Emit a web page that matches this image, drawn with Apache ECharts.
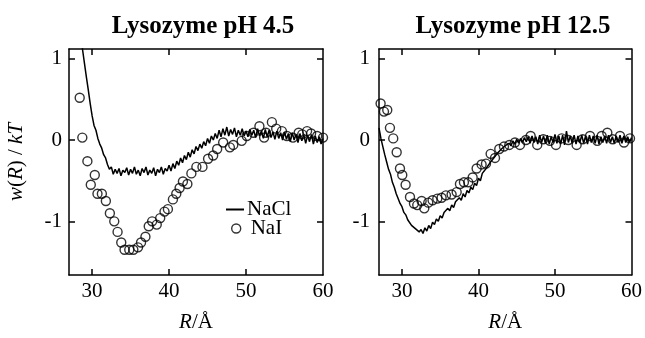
<!DOCTYPE html>
<html>
<head>
<meta charset="utf-8">
<script src="https://cdn.jsdelivr.net/npm/echarts@6/dist/echarts.min.js"></script>
<style>html,body{margin:0;padding:0;background:#fff}#c{width:645px;height:338px}</style>
</head>
<body>
<div id="c"></div>
<script>
// ---- data ----
const panelTitles = ['Lysozyme pH 4.5', 'Lysozyme pH 12.5'];
const xTicks = [30, 40, 50, 60];
const yTicks = [-1, 0, 1];

// NaCl simulation curves sampled every 0.25 Å
const naclLeftStart = 28.5, naclRightStart = 27.0, naclStep = 0.25;
const naclLeftW = [
 1.35,1.12,0.95,0.78,0.62,0.45,0.30,0.18,0.12,0.02,-0.05,-0.10,-0.18,-0.22,-0.30,-0.36,
 -0.33,-0.42,-0.36,-0.41,-0.35,-0.44,-0.37,-0.40,-0.34,-0.43,-0.36,-0.41,-0.33,-0.42,-0.37,-0.44,
 -0.35,-0.40,-0.33,-0.43,-0.37,-0.41,-0.34,-0.44,-0.36,-0.40,-0.33,-0.42,-0.35,-0.38,-0.31,-0.38,
 -0.29,-0.35,-0.26,-0.31,-0.22,-0.28,-0.19,-0.24,-0.15,-0.21,-0.12,-0.17,-0.08,-0.13,-0.05,-0.10,
 -0.02,-0.07,0.02,-0.04,0.05,0.00,0.08,0.02,0.12,0.04,0.14,0.06,0.16,0.05,0.13,0.07,
 0.15,0.04,0.12,0.06,0.14,0.05,0.11,0.04,0.13,0.06,0.12,0.03,0.14,0.05,0.11,0.02,
 0.13,0.04,0.12,0.03,0.10,0.01,0.11,0.02,0.09,0.00,0.10,0.01,0.08,-0.02,0.09,0.00,
 0.07,-0.03,0.08,-0.01,0.07,-0.04,0.06,-0.02,0.07,-0.05,0.05,-0.03,0.04,-0.05,0.02
];
const naclRightW = [
 0.15,0.02,-0.08,-0.18,-0.27,-0.36,-0.42,-0.52,-0.58,-0.66,-0.72,-0.78,-0.82,-0.89,-0.92,-0.98,
 -1.00,-1.05,-1.03,-1.09,-1.07,-1.13,-1.10,-1.15,-1.08,-1.12,-1.05,-1.09,-1.01,-1.04,-0.97,-1.00,
 -0.93,-0.96,-0.89,-0.91,-0.84,-0.87,-0.80,-0.83,-0.76,-0.78,-0.71,-0.74,-0.66,-0.70,-0.62,-0.65,
 -0.58,-0.61,-0.53,-0.56,-0.47,-0.50,-0.41,-0.43,-0.35,-0.37,-0.28,-0.30,-0.22,-0.24,-0.16,-0.18,
 -0.11,-0.13,-0.07,-0.09,-0.04,-0.07,-0.01,-0.05,0.01,-0.04,0.02,-0.03,0.03,-0.02,0.04,-0.04,
 0.05,-0.03,0.04,-0.05,0.06,-0.03,0.05,-0.04,0.06,-0.05,0.04,-0.03,0.07,-0.04,0.05,-0.05,
 0.06,-0.06,0.11,-0.03,0.05,-0.04,0.06,-0.05,0.05,-0.03,0.06,-0.04,0.05,-0.05,0.06,-0.03,
 0.05,-0.04,0.06,-0.05,0.04,-0.03,0.05,-0.04,0.06,-0.03,0.04,-0.04,0.05,-0.03,0.06,-0.04,
 0.05,-0.03,0.04,-0.03,0.03
];

// NaI data points
const naiLeftR = [28.39,28.73,29.39,29.83,30.35,30.70,31.27,31.79,32.31,32.88,33.31,33.79,34.22,34.83,35.36,35.97,
 36.36,36.93,37.36,37.80,38.40,38.85,39.41,39.85,40.50,40.94,41.37,41.80,42.38,42.90,43.55,44.34,
 45.07,45.73,46.25,47.03,47.90,48.34,49.44,50.09,50.96,51.74,52.35,52.60,53.36,53.92,54.66,55.32,
 56.10,56.84,57.30,57.93,58.45,59.24,60.00];
const naiLeftW = [0.52,0.03,-0.26,-0.55,-0.43,-0.66,-0.66,-0.75,-0.90,-1.00,-1.13,-1.26,-1.35,-1.35,-1.35,-1.32,
 -1.26,-1.19,-1.06,-1.00,-1.04,-0.96,-0.88,-0.85,-0.73,-0.66,-0.59,-0.51,-0.54,-0.41,-0.33,-0.33,
 -0.23,-0.19,-0.11,-0.03,-0.09,-0.06,-0.01,0.05,0.09,0.17,0.03,0.09,0.22,0.14,0.11,0.05,
 0.03,0.09,0.07,0.11,0.08,0.05,0.03];
const naiRightR = [27.21,27.65,28.08,28.43,28.86,29.31,29.74,30.04,30.48,31.05,31.57,32.00,32.57,32.92,33.44,34.00,
 34.62,35.18,35.75,36.49,37.15,37.58,38.10,38.67,39.24,39.76,40.41,40.98,41.59,42.16,42.72,43.33,
 44.03,44.77,45.42,46.20,46.82,47.68,48.47,49.34,50.13,50.87,51.74,52.83,53.62,54.58,55.53,56.10,
 56.84,57.54,58.50,59.02,59.80];
const naiRightW = [0.45,0.35,0.37,0.15,0.02,-0.15,-0.35,-0.43,-0.55,-0.70,-0.78,-0.80,-0.75,-0.84,-0.77,-0.74,
 -0.72,-0.71,-0.68,-0.67,-0.64,-0.54,-0.52,-0.52,-0.46,-0.35,-0.30,-0.29,-0.17,-0.22,-0.11,-0.08,
 -0.06,-0.03,-0.06,0.00,0.05,-0.06,0.01,-0.01,-0.06,0.02,0.00,-0.06,0.01,0.05,-0.01,0.05,
 0.09,0.01,0.05,-0.03,0.02];

// ---- build ----
const F = 'Liberation Serif';
function curve(start, ws){ return ws.map((w,i)=>[start + i*naclStep, w]); }
function pts(rs, ws){ return rs.map((r,i)=>[r, ws[i]]); }

const grids = [
  {left:69, top:49, width:254, height:228},
  {left:379, top:49, width:254, height:228}
];
const xAxes = [], yAxes = [];
grids.forEach((g,gi)=>{
  xAxes.push({gridIndex:gi, type:'value', min:27, max:60, position:'bottom',
    axisLine:{show:true, onZero:false, lineStyle:{color:'#000', width:1.5}},
    axisTick:{show:true, inside:true, length:6, customValues:xTicks.slice(0,3), lineStyle:{color:'#000', width:1.5}},
    axisLabel:{show:true, customValues:xTicks, color:'#000', fontFamily:F, fontSize:21, margin:6},
    splitLine:{show:false},
    name:'{i|R}/Å', nameLocation:'middle', nameGap:37,
    nameTextStyle:{color:'#000', fontFamily:F, fontSize:21, rich:{i:{fontStyle:'italic', fontFamily:F, fontSize:21, color:'#000'}}}
  });
  xAxes.push({gridIndex:gi, type:'value', min:27, max:60, position:'top',
    axisLine:{show:true, onZero:false, lineStyle:{color:'#000', width:1.5}},
    axisTick:{show:true, inside:true, length:6, customValues:xTicks.slice(0,3), lineStyle:{color:'#000', width:1.5}},
    axisLabel:{show:false}, splitLine:{show:false}
  });
  const yl = {gridIndex:gi, type:'value', min:-1.66, max:1.12, position:'left',
    axisLine:{show:true, onZero:false, lineStyle:{color:'#000', width:1.5}},
    axisTick:{show:true, inside:true, length:6, customValues:yTicks, lineStyle:{color:'#000', width:1.5}},
    axisLabel:{show:true, customValues:yTicks, color:'#000', fontFamily:F, fontSize:21, margin:gi===0?7:9},
    splitLine:{show:false}
  };
  if (gi===0){
    yl.name = '{i|w}({i|R}) / {i|kT}';
    yl.nameLocation = 'middle';
    yl.nameGap = 42;
    yl.nameTextStyle = {color:'#000', fontFamily:F, fontSize:21, rich:{i:{fontStyle:'italic', fontFamily:F, fontSize:21, color:'#000'}}};
  }
  yAxes.push(yl);
  yAxes.push({gridIndex:gi, type:'value', min:-1.66, max:1.12, position:'right',
    axisLine:{show:true, onZero:false, lineStyle:{color:'#000', width:1.5}},
    axisTick:{show:true, inside:true, length:6, customValues:yTicks, lineStyle:{color:'#000', width:1.5}},
    axisLabel:{show:false}, splitLine:{show:false}
  });
});

const naclData = [curve(naclLeftStart, naclLeftW), curve(naclRightStart, naclRightW)];
const naiData = [pts(naiLeftR, naiLeftW), pts(naiRightR, naiRightW)];
const series = [];
[0,1].forEach(gi=>{
  series.push({name:'NaCl', type:'line', xAxisIndex:gi*2, yAxisIndex:gi*2, data:naclData[gi],
    showSymbol:false, symbol:'none', lineStyle:{color:'#000', width:1.5}, itemStyle:{color:'#000'}, clip:true, animation:false, z:2});
  series.push({name:'NaI', type:'scatter', xAxisIndex:gi*2, yAxisIndex:gi*2, data:naiData[gi],
    symbol:'circle', symbolSize:9, itemStyle:{color:'rgba(0,0,0,0)', borderColor:'#000', borderWidth:1.4}, animation:false, z:3});
});

const chart = echarts.init(document.getElementById('c'), null, {renderer:'canvas'});
chart.setOption({
  backgroundColor:'#fff',
  animation:false,
  title: panelTitles.map((t,i)=>({text:t, left: i===0?198:508, top:9, textAlign:'center',
    textStyle:{fontFamily:F, fontWeight:'bold', fontSize:25, color:'#000'}})),
  grid: grids,
  xAxis: xAxes,
  yAxis: yAxes,
  legend: [
    {data:[{name:'NaCl', icon:'rect', itemStyle:{color:'#000'}}], left:221, top:194, orient:'vertical',
      itemWidth:18, itemHeight:2, itemGap:4, selectedMode:false,
      textStyle:{fontFamily:F, fontSize:21, color:'#000', padding:[0,0,0,-2]}},
    {data:[{name:'NaI', icon:'circle', itemStyle:{color:'rgba(0,0,0,0)', borderColor:'#000', borderWidth:1.4}}], left:226, top:213, orient:'vertical',
      itemWidth:9, itemHeight:9, selectedMode:false,
      textStyle:{fontFamily:F, fontSize:21, color:'#000', padding:[0,0,0,5]}}
  ],
  series: series
});
</script>
</body>
</html>
